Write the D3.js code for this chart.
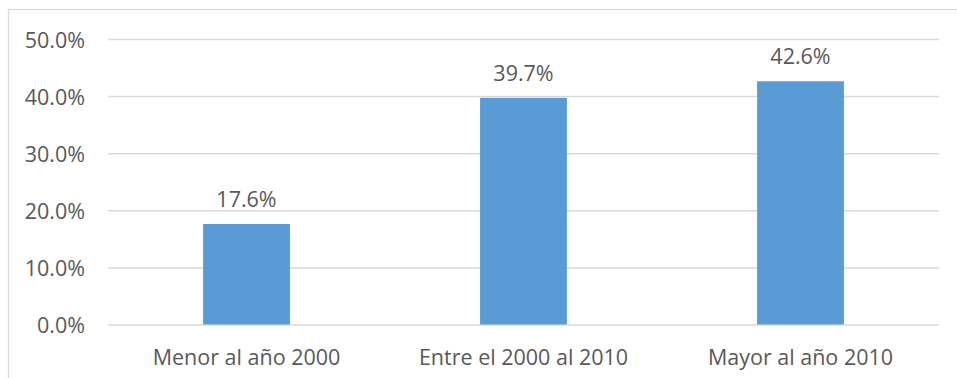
<!DOCTYPE html>
<html>
<head>
<meta charset="utf-8">
<script src="https://cdn.jsdelivr.net/npm/d3@7"></script>
<style>
  html, body { margin: 0; padding: 0; background: #fff; }
  svg { display: block; }
  text { font-family: "Open Sans", "Noto Sans", sans-serif; fill: #595959; }
</style>
</head>
<body>
<svg id="chart" width="957" height="378"></svg>
<script>
// Share of records by period
const categories = ["Menor al año 2000", "Entre el 2000 al 2010", "Mayor al año 2010"];
const values = [17.6, 39.7, 42.6];
const yTicks = [0, 10, 20, 30, 40, 50];

const svg = d3.select("#chart");
const W = 957, H = 378;
const plot = { left: 108, right: 939, top: 39, bottom: 324.5 };
const fontSize = 21.5;

// Outer chart frame (only the top and left edges fall inside the view)
svg.append("path")
  .attr("d", `M8.5,${H} V9.5 H${W}`)
  .attr("fill", "none")
  .attr("stroke", "#d9d9d9")
  .attr("stroke-width", 1.2);

const x = d3.scaleBand().domain(categories).range([plot.left, plot.right]).padding(0);
const y = d3.scaleLinear().domain([0, 50]).range([plot.bottom, plot.top]);
const barW = x.bandwidth() / 3.19; // gap width 219%

// Horizontal gridlines and y tick labels via axis
const yAxis = d3.axisLeft(y)
  .tickValues(yTicks)
  .tickSize(-(plot.right - plot.left))
  .tickPadding(23)
  .tickFormat(d => d.toFixed(1) + "%");

const gy = svg.append("g")
  .attr("transform", `translate(${plot.left},0)`)
  .call(yAxis);
gy.select(".domain").remove();
gy.selectAll(".tick line").attr("stroke", "#d9d9d9").attr("stroke-width", 1.5);
gy.selectAll(".tick text")
  .attr("font-size", fontSize)
  .attr("fill", "#595959")
  .attr("font-family", "'Open Sans', 'Noto Sans', sans-serif")
  .attr("dy", "0.38em");

// Bars
svg.append("g").selectAll("rect")
  .data(values)
  .join("rect")
  .attr("x", (d, i) => x(categories[i]) + x.bandwidth() / 2 - barW / 2)
  .attr("width", barW)
  .attr("y", d => y(d))
  .attr("height", d => y(0) - y(d))
  .attr("fill", "#5b9bd5");

// Value labels above bars
svg.append("g").selectAll("text")
  .data(values)
  .join("text")
  .attr("x", (d, i) => x(categories[i]) + x.bandwidth() / 2)
  .attr("y", d => y(d) - 17)
  .attr("text-anchor", "middle")
  .attr("font-size", fontSize)
  .text(d => d.toFixed(1) + "%");

// Category labels
const xAxis = d3.axisBottom(x).tickSize(0).tickPadding(0);
const gx = svg.append("g")
  .attr("transform", `translate(0,${plot.bottom})`)
  .call(xAxis);
gx.select(".domain").remove();
gx.selectAll(".tick text")
  .attr("font-size", fontSize)
  .attr("fill", "#595959")
  .attr("font-family", "'Open Sans', 'Noto Sans', sans-serif")
  .attr("dy", 0)
  .attr("y", 40.5);
</script>
</body>
</html>
